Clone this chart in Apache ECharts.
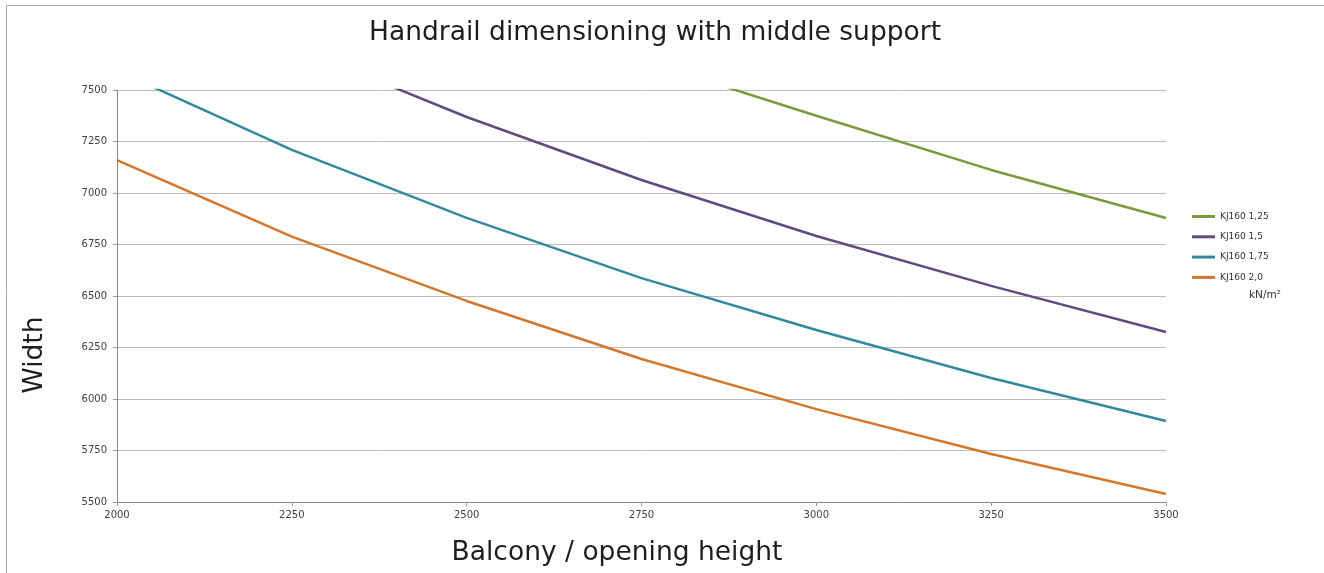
<!DOCTYPE html>
<html>
<head>
<meta charset="utf-8">
<script src="https://cdn.jsdelivr.net/npm/echarts@6/dist/echarts.min.js"></script>
<style>
  html, body { margin: 0; padding: 0; background: #fff; }
  #chart { width: 1324px; height: 573px; }
</style>
</head>
<body>
<div id="chart"></div>
<script>
// balcony / opening height (x)
const heights = [2000, 2250, 2500, 2750, 3000, 3250, 3500];
// width per load class, values above 7500 are cut off by the axis
const kj125 = [null, null, null, 7645, 7375, 7112, 6879];
const kj150 = [null, 7714, 7369, 7063, 6791, 6549, 6325];
const kj175 = [7594, 7209, 6879, 6587, 6335, 6102, 5893];
const kj200 = [7160, 6788, 6476, 6194, 5951, 5733, 5539];
const seriesNames = ['KJ160 1,25', 'KJ160 1,5', 'KJ160 1,75', 'KJ160 2,0'];
const colors = ['#7a9a3c', '#5f4b7e', '#3389a0', '#d5772b'];

const font = 'DejaVu Sans, Verdana, sans-serif';
const chart = echarts.init(document.getElementById('chart'));

const toPairs = (vals) => heights.map((h, i) => [h, vals[i]]);

const option = {
  animation: false,
  color: colors,
  title: {
    text: 'Handrail dimensioning with middle support',
    left: 364,
    top: 15,
    textStyle: { fontFamily: font, fontSize: 26.5, fontWeight: 'normal', color: '#1e1e1e' },
  },
  grid: { left: 117, right: 158, top: 90, bottom: 71, containLabel: false },
  legend: {
    orient: 'vertical',
    left: 1192,
    top: 212,
    padding: 0,
    itemWidth: 23,
    itemHeight: 14,
    itemGap: 11.3,
    icon: 'path://M0,5.5 L23,5.5 L23,8.5 L0,8.5 Z',
    textStyle: { fontFamily: font, fontSize: 9, color: '#333' },
    data: seriesNames,
  },
  xAxis: {
    type: 'value',
    min: 2000,
    max: 3500,
    interval: 250,
    axisLine: { lineStyle: { color: '#888', width: 1 } },
    axisTick: { show: true, length: 4, lineStyle: { color: '#999' } },
    axisLabel: { margin: 8, fontFamily: font, fontSize: 10, color: '#404040', formatter: (v) => String(v) },
    splitLine: { show: false },
  },
  yAxis: {
    type: 'value',
    min: 5500,
    max: 7500,
    interval: 250,
    axisLine: { show: true, lineStyle: { color: '#888', width: 1 } },
    axisTick: { show: true, length: 4, lineStyle: { color: '#999' } },
    axisLabel: { margin: 10, fontFamily: font, fontSize: 10, color: '#404040', formatter: (v) => String(v) },
    splitLine: { show: true, lineStyle: { color: '#bdbdbd', width: 1 } },
  },
  series: [kj125, kj150, kj175, kj200].map((vals, i) => ({
    name: seriesNames[i],
    type: 'line',
    data: toPairs(vals),
    symbol: 'none',
    clip: true,
    lineStyle: { width: 2.5, color: colors[i] },
    itemStyle: { color: colors[i] },
  })),
  graphic: [
    {
      type: 'rect',
      shape: { x: 6.5, y: 5.5, width: 1400, height: 700 },
      style: { fill: 'none', stroke: '#a6a6a6', lineWidth: 1 },
      silent: true,
    },
    {
      type: 'text',
      left: 1249,
      top: 290,
      style: { text: 'kN/m²', fontFamily: font, fontSize: 10.5, fill: '#333' },
    },
    {
      type: 'text',
      x: 35,
      y: 355,
      rotation: Math.PI / 2,
      style: {
        text: 'Width',
        fontFamily: font,
        fontSize: 26.5,
        fill: '#1e1e1e',
        align: 'center',
        verticalAlign: 'middle',
      },
    },
    {
      type: 'text',
      x: 617,
      y: 553,
      style: {
        text: 'Balcony / opening height',
        fontFamily: font,
        fontSize: 26.5,
        fill: '#1e1e1e',
        align: 'center',
        verticalAlign: 'middle',
      },
    },
  ],
};

chart.setOption(option);
</script>
</body>
</html>
